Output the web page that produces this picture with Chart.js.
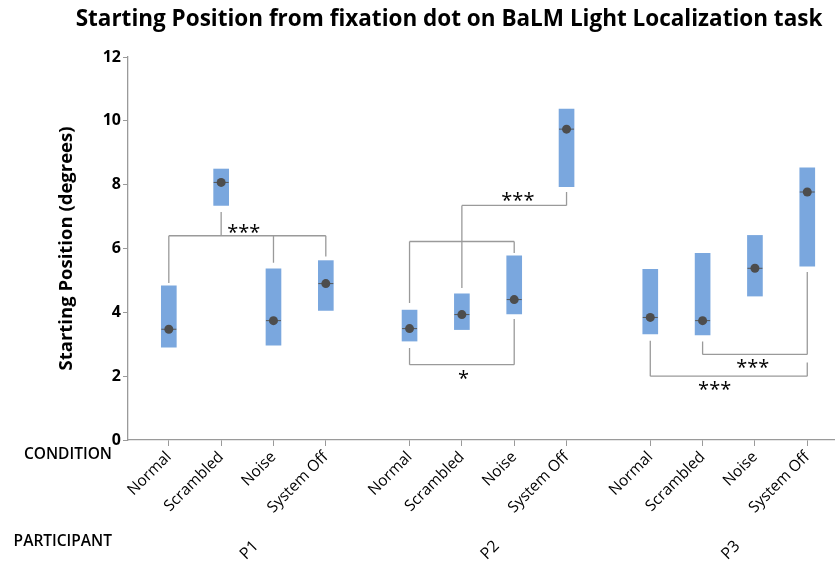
<!DOCTYPE html>
<html>
<head>
<meta charset="utf-8">
<title>Starting Position - BaLM Light Localization</title>
<script src="https://cdn.jsdelivr.net/npm/chart.js@4.4.0/dist/chart.umd.min.js"></script>
<style>
  html, body { margin: 0; padding: 0; background: #fff; }
  #wrap { width: 835px; height: 562px; position: relative; }
</style>
</head>
<body>
<div id="wrap"><canvas id="chart"></canvas></div>
<script>
// Datos
const participants = ["P1", "P2", "P3"]
const conditions = ["Normal", "Scrambled", "Noise", "System Off"]

// orden: P1 (Normal, Scrambled, Noise, System Off), P2 (...), P3 (...)
const boxLow = [2.91, 7.35, 2.97, 4.06, 3.10, 3.46, 3.95, 7.94, 3.32, 3.29, 4.51, 5.45]
const boxHigh = [4.83, 8.49, 5.36, 5.62, 4.07, 4.58, 5.77, 10.37, 5.35, 5.85, 6.41, 8.53]
const medians = [3.47, 8.07, 3.74, 4.90, 3.49, 3.93, 4.40, 9.74, 3.84, 3.74, 5.38, 7.77]
const yTicks = [0, 2, 4, 6, 8, 10, 12]

// corchetes de significancia: participante, altura del travesaño, patas [condición, fin], estrellas y su posición
const brackets = [
  { p: 0, level: 6.40, legs: [[0, 4.92], [1, 7.14], [2, 5.55], [3, 5.75]], text: "***", tx: 1.43, ty: 6.62 },
  { p: 1, level: 6.22, legs: [[0, 4.29], [2, 5.86]], text: "", tx: 0, ty: 0 },
  { p: 1, level: 7.35, legs: [[1, 4.76], [3, 7.77]], text: "***", tx: 2.07, ty: 7.62 },
  { p: 1, level: 2.36, legs: [[0, 2.88], [2, 3.79]], text: "*", tx: 1.03, ty: 2.05 },
  { p: 2, level: 2.68, legs: [[1, 3.09], [3, 5.26]], text: "***", tx: 1.96, ty: 2.40 },
  { p: 2, level: 2.00, legs: [[0, 3.11], [3, 2.43]], text: "***", tx: 1.23, ty: 1.72 },
]

// Posición en el eje x
const groupStep = 4.6
const xPos = (p, c) => p * groupStep + c

const xValues = []
participants.forEach((p, pi) => conditions.forEach((c, ci) => xValues.push(xPos(pi, ci))))

const boxColor = "#7aa7de"
const dotColor = "#4d4d4d"
const lineGray = "#9a9a9a"
const font = "'Open Sans', 'Noto Sans', sans-serif"

// Datasets de corchetes
function bracketData(b) {
  const pts = []
  const xs = b.legs.map((l) => xPos(b.p, l[0]))
  pts.push({ x: Math.min(...xs), y: b.level }, { x: Math.max(...xs), y: b.level })
  b.legs.forEach((l) => {
    pts.push({ x: xPos(b.p, l[0]), y: null })
    pts.push({ x: xPos(b.p, l[0]), y: l[1] }, { x: xPos(b.p, l[0]), y: b.level })
  })
  return pts
}

const bracketSets = brackets.map((b) => ({
  type: "line",
  data: bracketData(b),
  borderColor: lineGray,
  borderWidth: 1.3,
  pointRadius: 0,
  spanGaps: false,
  fill: false,
  order: 2,
}))

// Textos extra: título, etiquetas de fila, participantes y estrellas
const extrasPlugin = {
  id: "extras",
  afterDraw(chart) {
    const ctx = chart.ctx
    const x = chart.scales.x
    const y = chart.scales.y
    ctx.save()
    ctx.fillStyle = "#000"

    // Título
    ctx.font = `bold 22.5px ${font}`
    ctx.textAlign = "center"
    ctx.textBaseline = "middle"
    ctx.fillText("Starting Position from fixation dot on BaLM Light Localization task", 449, 20)

    // Estrellas
    ctx.font = `20px ${font}`
    brackets.forEach((b) => {
      if (!b.text) return
      ctx.fillText(b.text, x.getPixelForValue(xPos(b.p, b.tx)), y.getPixelForValue(b.ty) + 5)
    })

    // Etiquetas de fila
    ctx.font = `600 15.5px ${font}`
    ctx.textAlign = "right"
    ctx.fillText("CONDITION", 112, 455)
    ctx.fillText("PARTICIPANT", 112, 542)

    // Participantes
    ctx.font = `16px ${font}`
    participants.forEach((p, pi) => {
      const cx = x.getPixelForValue(xPos(pi, 1.5))
      ctx.save()
      ctx.translate(cx + 3, 538)
      ctx.rotate(-Math.PI / 4)
      ctx.textAlign = "right"
      ctx.textBaseline = "top"
      ctx.fillText(p, 0, 0)
      ctx.restore()
    })
    ctx.restore()
  },
}

new Chart(document.getElementById("chart"), {
  type: "bar",
  data: {
    datasets: [
      {
        type: "line",
        data: xValues.map((v, i) => ({ x: v, y: medians[i] })),
        showLine: false,
        pointRadius: 4.5,
        pointBackgroundColor: dotColor,
        pointBorderColor: dotColor,
        pointBorderWidth: 0,
        order: 0,
      },
      {
        type: "line",
        data: xValues.map((v, i) => ({ x: v, y: medians[i] })),
        showLine: false,
        pointStyle: "line",
        pointRadius: 7.5,
        pointBorderColor: "#555",
        pointBorderWidth: 1,
        order: 1,
      },
      ...bracketSets,
      {
        type: "bar",
        data: xValues.map((v, i) => ({ x: v, y: [boxLow[i], boxHigh[i]] })),
        backgroundColor: boxColor,
        borderWidth: 0,
        barThickness: 15,
        grouped: false,
        order: 3,
      },
    ],
  },
  options: {
    responsive: true,
    maintainAspectRatio: false,
    animation: false,
    events: [],
    layout: { autoPadding: false, padding: { left: 53, top: 57, right: 0, bottom: 0 } },
    plugins: {
      legend: { display: false },
      tooltip: { enabled: false },
      title: { display: false },
    },
    scales: {
      x: {
        type: "linear",
        min: -0.78,
        max: 12.73,
        offset: false,
        afterBuildTicks: (scale) => {
          scale.ticks = xValues.map((v) => ({ value: v }))
        },
        afterFit: (scale) => {
          scale.height = 122
          scale.paddingLeft = 0
          scale.paddingRight = 0
        },
        grid: {
          offset: false,
          drawOnChartArea: false,
          drawTicks: true,
          tickLength: 6,
          color: lineGray,
        },
        border: { color: lineGray, width: 1.3 },
        ticks: {
          autoSkip: false,
          minRotation: 45,
          maxRotation: 45,
          padding: 2,
          color: "#000",
          font: { family: font, size: 15.5 },
          callback: (value, index) => conditions[index % conditions.length],
        },
      },
      y: {
        min: 0,
        max: 12,
        afterBuildTicks: (scale) => {
          scale.ticks = yTicks.map((v) => ({ value: v }))
        },
        afterFit: (scale) => {
          scale.width = 75
          scale.paddingTop = 0
          scale.paddingBottom = 0
        },
        grid: {
          drawOnChartArea: false,
          drawTicks: true,
          tickLength: 5,
          color: lineGray,
        },
        border: { color: lineGray, width: 1.3 },
        ticks: {
          padding: 2,
          color: "#000",
          font: { family: font, size: 16, weight: "bold" },
        },
        title: {
          display: true,
          text: "Starting Position (degrees)",
          color: "#000",
          font: { family: font, size: 18.5, weight: "bold" },
          padding: { top: 3, bottom: 0 },
        },
      },
    },
  },
  plugins: [extrasPlugin],
})
</script>
</body>
</html>
